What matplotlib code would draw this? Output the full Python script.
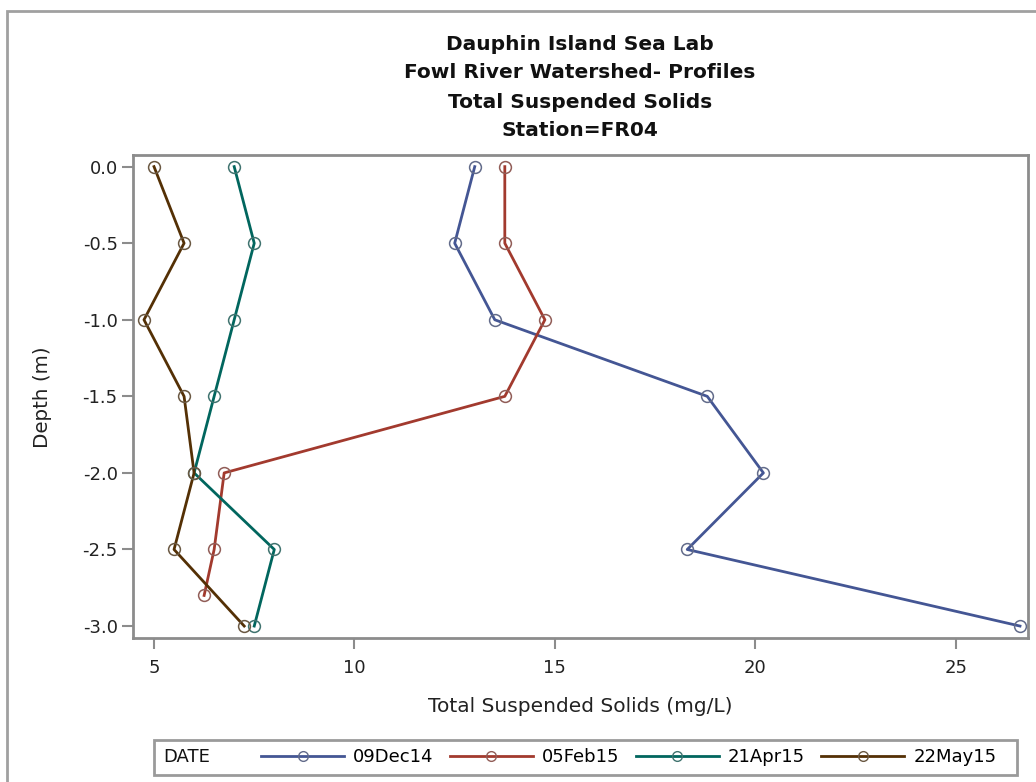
import matplotlib
matplotlib.use("Agg")
import matplotlib.pyplot as plt
from matplotlib.lines import Line2D
from matplotlib.patches import Rectangle
from matplotlib.colors import to_rgb

plt.rcParams["font.family"] = ["DejaVu Sans"]
plt.rcParams["axes.unicode_minus"] = False

# Profile data: total suspended solids (mg/L) by depth (m)
dates = ["09Dec14", "05Feb15", "21Apr15", "22May15"]
depth_dec14 = [0.0, -0.5, -1.0, -1.5, -2.0, -2.5, -3.0]
tss_dec14 = [13.0, 12.5, 13.5, 18.8, 20.2, 18.3, 26.6]
depth_feb15 = [0.0, -0.5, -1.0, -1.5, -2.0, -2.5, -2.8]
tss_feb15 = [13.75, 13.75, 14.75, 13.75, 6.75, 6.5, 6.25]
depth_apr15 = [0.0, -0.5, -1.0, -1.5, -2.0, -2.5, -3.0]
tss_apr15 = [7.0, 7.5, 7.0, 6.5, 6.0, 8.0, 7.5]
depth_may15 = [0.0, -0.5, -1.0, -1.5, -2.0, -2.5, -3.0]
tss_may15 = [5.0, 5.75, 4.75, 5.75, 6.0, 5.5, 7.25]

x_ticks = [5, 10, 15, 20, 25]
y_ticks = [0.0, -0.5, -1.0, -1.5, -2.0, -2.5, -3.0]

colors = ["#445694", "#A23A2E", "#01665E", "#543005"]
series = [(tss_dec14, depth_dec14), (tss_feb15, depth_feb15),
          (tss_apr15, depth_apr15), (tss_may15, depth_may15)]

W, H = 1036, 782
fig = plt.figure(figsize=(W / 100, H / 100), dpi=100)

def fx(px):
    return px / W

def fy(py):
    return 1 - py / H

ax = fig.add_axes([fx(133), fy(638), fx(1028) - fx(133), fy(155) - fy(638)])

def marker_edge(c):
    r, g, b = to_rgb(c)
    return (0.5 * r + 0.25, 0.5 * g + 0.25, 0.5 * b + 0.25)

handles = []
for (x, y), c, lab in zip(series, colors, dates):
    ax.plot(x, y, color=c, lw=2.0, zorder=2)
    ax.plot(x, y, ls="none", marker="o", ms=8.5, mfc="none",
            mec=marker_edge(c), mew=1.1, zorder=3)
    handles.append(Line2D([], [], color=c, lw=2.0, marker="o", ms=7,
                          mfc="none", mec=marker_edge(c), mew=1.0))

ax.set_xlim(4.476, 26.8)
ax.set_ylim(-3.078, 0.076)
ax.set_xticks(x_ticks)
ax.set_yticks(y_ticks)
ax.set_yticklabels([f"{v:.1f}" for v in y_ticks])
ax.tick_params(axis="both", length=8, width=1.5, color="#8c8c8c",
               labelsize=13, labelcolor="#222222")
ax.tick_params(axis="x", pad=7)
ax.tick_params(axis="y", pad=3)
for s in ax.spines.values():
    s.set_color("#8c8c8c")
    s.set_linewidth(2)

# Titles
titles = ["Dauphin Island Sea Lab", "Fowl River Watershed- Profiles",
          "Total Suspended Solids", "Station=FR04"]
for t, py in zip(titles, [45, 73, 102, 130]):
    fig.text(fx(580), fy(py), t, ha="center", va="center",
             fontsize=14.5, fontweight="bold", color="#111111")

fig.text(fx(580), fy(707), "Total Suspended Solids (mg/L)", ha="center",
         va="center", fontsize=14.5, color="#222222")
fig.text(fx(43), fy(397), "Depth (m)", ha="center", va="center",
         rotation=90, fontsize=14.3, color="#222222")

# Legend box with DATE label
fig.patches.append(Rectangle((fx(154), fy(775)), fx(1017) - fx(154),
                             fy(740) - fy(775), transform=fig.transFigure,
                             fill=False, ec="#9a9a9a", lw=2))
fig.text(fx(163), fy(757), "DATE", ha="left", va="center", fontsize=13,
         color="#111111")
fig.legend(handles, dates, ncol=4, loc="center left",
           bbox_to_anchor=(fx(261), fy(757)), frameon=False,
           fontsize=13, handlelength=4.6, handletextpad=0.5,
           columnspacing=0.9, borderpad=0, borderaxespad=0)

# Outer frame
fig.patches.append(Rectangle((fx(7), fy(800)), 1.2, fy(11) - fy(800),
                             transform=fig.transFigure, fill=False,
                             ec="#a0a0a0", lw=2))

fig.savefig("out.png", dpi=100)
